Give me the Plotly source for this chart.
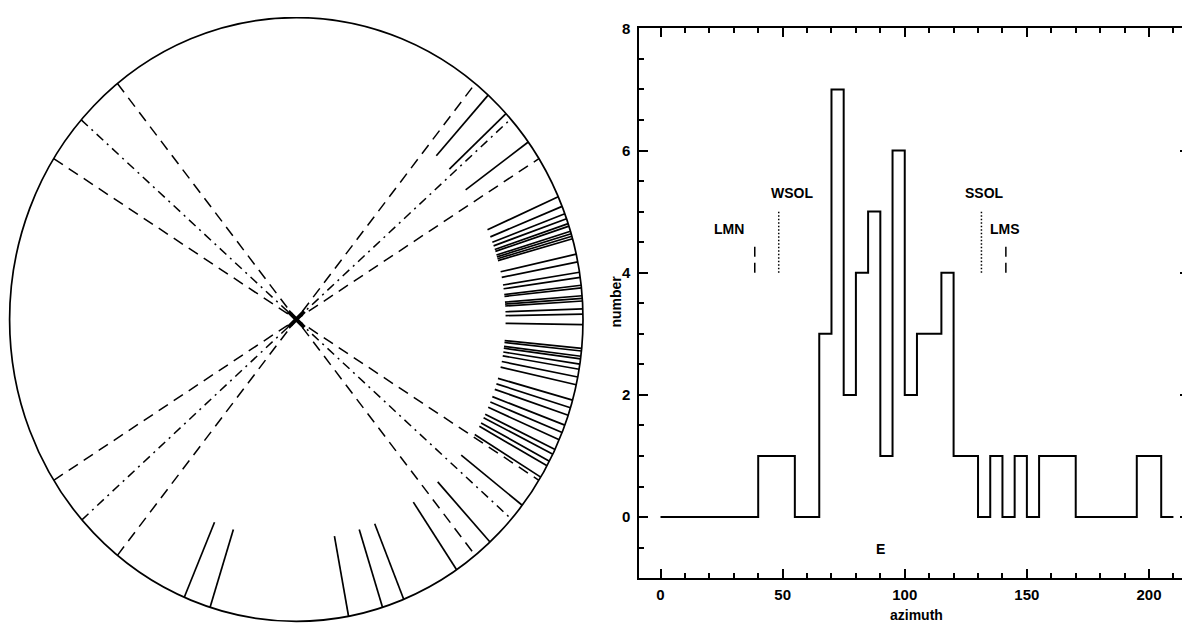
import numpy as np
import plotly.graph_objects as go

# ---------------- data ----------------
# azimuths (deg, from north, clockwise) of the observed alignments (rim ticks)
obs_azimuth = [42, 47, 54,
               66, 68, 69.5,
               70.5, 71.5, 72, 73, 73.5, 74, 74.5,
               77.5, 79,
               81, 82, 83.5, 84,
               85.5, 86, 86.5, 88, 89,
               91,
               95.5, 96, 97, 97.5, 98.5, 99.5,
               101, 102.5,
               105.5, 107, 108.5,
               110.5, 112, 113.5,
               115.5, 116.5, 118, 119,
               121.5, 128, 137.5, 146, 158, 162.5, 169.5, 197.5, 203]

# reference directions (deg)
lunar_major = [38.6, 141.4]      # LMN, LMS
solstice = [48.4, 131.4]         # WSOL, SSOL
lunar_minor = [57.8, 122.2]

# histogram (5 degree bins)
bin_edges = [0, 5, 10, 15, 20, 25, 30, 35, 40, 45, 50, 55, 60, 65, 70, 75, 80, 85,
             90, 95, 100, 105, 110, 115, 120, 125, 130, 135, 140, 145, 150, 155,
             160, 165, 170, 175, 180, 185, 190, 195, 200, 205, 210]
counts = [0, 0, 0, 0, 0, 0, 0, 0, 1, 1, 1, 0, 0, 3, 7, 2, 4, 5,
          1, 6, 2, 3, 3, 4, 1, 1, 0, 1, 0, 1, 0, 1,
          1, 1, 0, 0, 0, 0, 0, 1, 1, 0]

event_names = ["LMN", "WSOL", "SSOL", "LMS"]
event_az = [lunar_major[0], solstice[0], solstice[1], lunar_major[1]]

# ---------------- figure ----------------
W, H = 1190, 625
# measured mapping of figure pixels onto the photographed window
WX0 = 8.0                 # window x = WX0 + fig x
WY0, WYS = 17.0, 0.9835   # window y = WY0 + WYS * fig y
FONT = "Liberation Sans, Arial, sans-serif"
fig = go.Figure()


def fx(win_x):   # window pixel x -> paper fraction
    return (win_x - WX0) / W


def fy(win_y):   # window pixel y (from top) -> paper fraction
    return 1 - ((win_y - WY0) / WYS) / H


# left panel geometry (window pixels)
cx, rx = 296.3, 286.7
c_top, c_bot = 17.6, 620.0
cy, ry = (c_top + c_bot) / 2, (c_bot - c_top) / 2
left_w = 595
win_top, win_bot = WY0, WY0 + WYS * H


def seg_xy(az_list, r0, r1):
    xs, ys = [], []
    for a in az_list:
        t = np.deg2rad(a)
        xs += [r0 * np.sin(t), r1 * np.sin(t), None]
        ys += [r0 * np.cos(t), r1 * np.cos(t), None]
    return xs, ys


# rim ticks
xs, ys = seg_xy(obs_azimuth, 0.73, 1.0)
fig.add_trace(go.Scatter(x=xs, y=ys, mode="lines", line=dict(color="black", width=1.7),
                         hoverinfo="skip", showlegend=False, xaxis="x", yaxis="y"))

# full diameters through the centre
for group, dash in [(lunar_major, "11px,7px"), (lunar_minor, "11px,7px"),
                    (solstice, "9px,5px,2px,5px")]:
    xs, ys = seg_xy(group, -1.0, 1.0)
    fig.add_trace(go.Scatter(x=xs, y=ys, mode="lines",
                             line=dict(color="black", width=1.5, dash=dash),
                             hoverinfo="skip", showlegend=False, xaxis="x", yaxis="y"))

# centre cross
fig.add_trace(go.Scatter(x=[0], y=[0], mode="markers",
                         marker=dict(symbol="x-thin", size=16, line=dict(color="black", width=4)),
                         hoverinfo="skip", showlegend=False, xaxis="x", yaxis="y"))

# rim circle
fig.add_shape(type="circle", xref="x", yref="y", x0=-1, x1=1, y0=-1, y1=1,
              line=dict(color="black", width=1.7))

# histogram step line
fig.add_trace(go.Scatter(x=bin_edges, y=counts + [counts[-1]], mode="lines", line_shape="hv",
                         line=dict(color="black", width=2), hoverinfo="skip",
                         showlegend=False, xaxis="x2", yaxis="y2"))

# event markers in histogram
marker_styles = {"LMN": ("dash", 4.45, 28.2, 4.72), "WSOL": ("dot", 5.0, 53.7, 5.31),
                 "SSOL": ("dot", 5.0, 132.7, 5.31), "LMS": ("dash", 4.45, 140.9, 4.72)}
lab_font = dict(family=FONT, size=14, color="black", weight="bold")
for name, az in zip(event_names, event_az):
    style, top, tx, ty = marker_styles[name]
    dash = "10px,6px" if style == "dash" else "1.5px,2px"
    fig.add_trace(go.Scatter(x=[az, az], y=[4, top], mode="lines",
                             line=dict(color="black", width=1.5, dash=dash),
                             hoverinfo="skip", showlegend=False, xaxis="x2", yaxis="y2"))
    fig.add_annotation(x=tx, y=ty, xref="x2", yref="y2", text=name, showarrow=False,
                       xanchor="center", yanchor="middle", font=lab_font)

fig.add_annotation(x=90, y=-0.53, xref="x2", yref="y2", text="E", showarrow=False,
                   xanchor="center", yanchor="middle", font=lab_font)

# axis titles
fig.add_annotation(x=fx(616), y=fy(301), xref="paper", yref="paper", text="number",
                   textangle=-90, showarrow=False, xanchor="center", yanchor="middle",
                   font=lab_font)
fig.add_annotation(x=fx(916), y=fy(614), xref="paper", yref="paper", text="azimuth",
                   showarrow=False, xanchor="center", yanchor="middle", font=lab_font)

# right panel geometry (window pixels)
px_left, px_right = 639.3, 1189.0
x0_px, x200_px = 660.5, 1149.0
ppu = (x200_px - x0_px) / 200.0
xr = [(px_left - x0_px) / ppu, (px_right - x0_px) / ppu]
top_px, bot_px = 28.3, 577.0

tickfont = dict(family=FONT, size=15, color="black", weight="bold")
fig.update_layout(
    width=W, height=H, margin=dict(l=0, r=0, t=0, b=0),
    paper_bgcolor="white", plot_bgcolor="white",
    xaxis=dict(domain=[0, left_w / W], range=[(WX0 - cx) / rx, (WX0 + left_w - cx) / rx],
               visible=False, showgrid=False, zeroline=False),
    yaxis=dict(domain=[0, 1], range=[(cy - win_bot) / ry, (cy - win_top) / ry],
               visible=False, showgrid=False, zeroline=False),
    xaxis2=dict(domain=[fx(px_left), fx(px_right)], range=xr, anchor="y2",
                showgrid=False, zeroline=False, showline=True, linecolor="black", linewidth=2,
                mirror="allticks", ticks="inside", ticklen=9, tickwidth=1.5, tickcolor="black",
                tickvals=[0, 50, 100, 150, 200], ticktext=["0", "50", "100", "150", "200"],
                tickfont=tickfont, ticklabelstandoff=2,
                minor=dict(dtick=10, tick0=0, ticks="inside", ticklen=5, tickwidth=1.5,
                           tickcolor="black", showgrid=False)),
    yaxis2=dict(domain=[fy(bot_px), fy(top_px)], range=[-1, 8], anchor="x2",
                showgrid=False, zeroline=False, showline=True, linecolor="black", linewidth=2,
                mirror="allticks", ticks="inside", ticklen=9, tickwidth=1.5, tickcolor="black",
                tickvals=[0, 2, 4, 6, 8], ticktext=["0", "2", "4", "6", "8"],
                tickfont=tickfont, ticklabelstandoff=4,
                minor=dict(dtick=0.5, tick0=0, ticks="inside", ticklen=5, tickwidth=1.5,
                           tickcolor="black", showgrid=False)),
)

fig.write_html("out.html")
